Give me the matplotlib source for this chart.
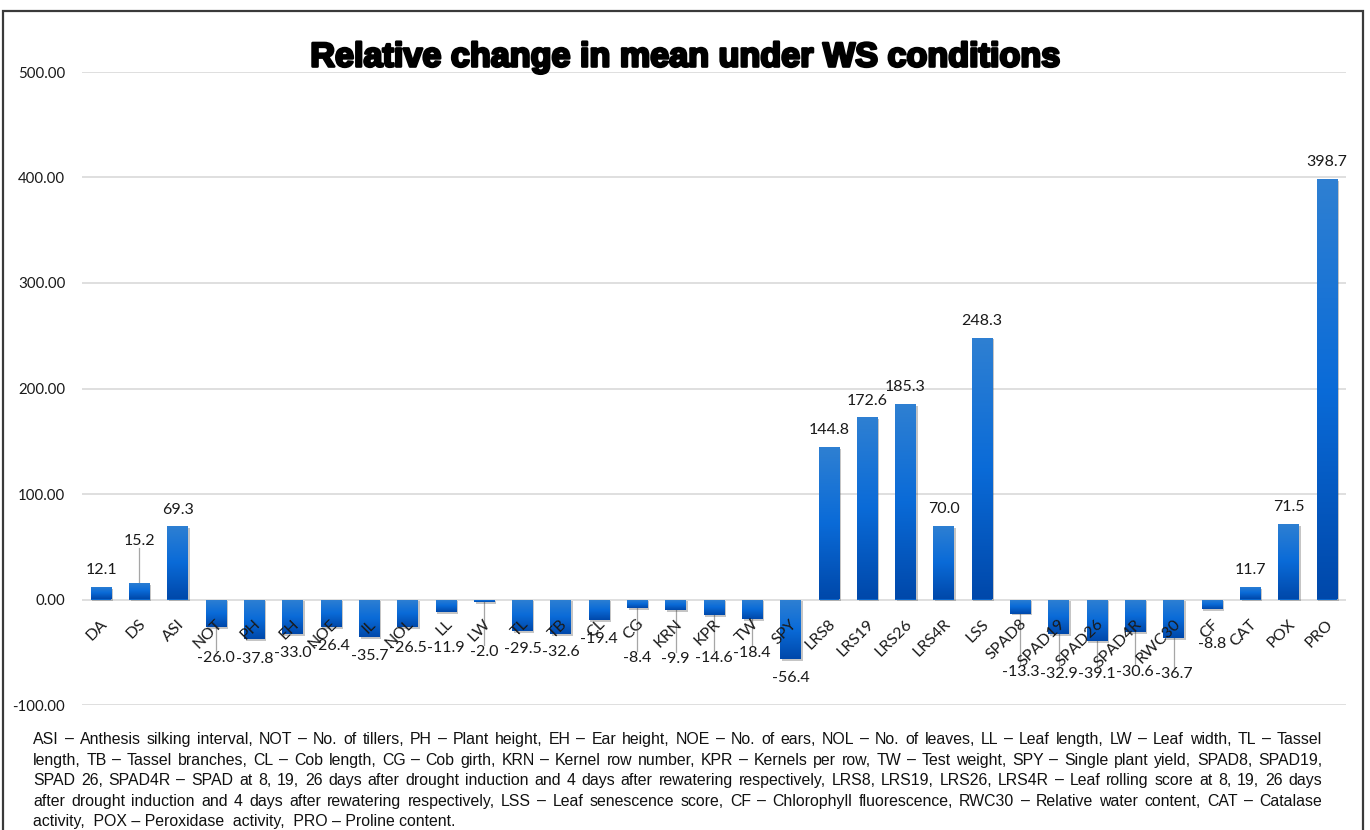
import matplotlib
matplotlib.use("Agg")
import matplotlib.pyplot as plt
import matplotlib.patheffects as pe
from matplotlib.colors import LinearSegmentedColormap
from matplotlib.patches import Rectangle
import numpy as np

traits = ["DA", "DS", "ASI", "NOT", "PH", "EH", "NOE", "IL", "NOL", "LL", "LW",
          "TL", "TB", "CL", "CG", "KRN", "KPR", "TW", "SPY", "LRS8", "LRS19",
          "LRS26", "LRS4R", "LSS", "SPAD8", "SPAD19", "SPAD26", "SPAD4R",
          "RWC30", "CF", "CAT", "POX", "PRO"]
change = [12.1, 15.2, 69.3, -26.0, -37.8, -33.0, -26.4, -35.7, -26.5, -11.9,
          -2.0, -29.5, -32.6, -19.4, -8.4, -9.9, -14.6, -18.4, -56.4, 144.8,
          172.6, 185.3, 70.0, 248.3, -13.3, -32.9, -39.1, -30.6, -36.7, -8.8,
          11.7, 71.5, 398.7]
yticks = [-100, 0, 100, 200, 300, 400, 500]

# where the value labels sit (centre, in data units) for the negative bars
neg_label_y = {"NOT": -55, "PH": -56, "EH": -51, "NOE": -44.5, "IL": -54,
               "NOL": -45.5, "LL": -45.5, "LW": -50, "TL": -46.5, "TB": -50,
               "CL": -37, "CG": -55, "KRN": -56, "KPR": -55, "TW": -51,
               "SPY": -74, "SPAD8": -69, "SPAD19": -71, "SPAD26": -71,
               "SPAD4R": -69, "RWC30": -71, "CF": -42}
pos_label_lift = {"DS": 24}
with_leader = {"DS", "NOT", "LW", "CG", "KRN", "KPR", "TW", "SPAD8", "SPAD19",
               "SPAD26", "SPAD4R", "RWC30"}

title = "Relative change in mean under WS conditions"
notes = [
    "ASI \u2013 Anthesis silking interval, NOT \u2013 No. of tillers, PH \u2013 Plant height, EH \u2013 Ear height, NOE \u2013 No. of ears, NOL \u2013 No. of leaves, LL \u2013 Leaf length, LW \u2013 Leaf width, TL \u2013 Tassel",
    "length, TB \u2013 Tassel branches, CL \u2013 Cob length, CG \u2013 Cob girth, KRN \u2013 Kernel row number, KPR \u2013 Kernels per row, TW \u2013 Test weight, SPY \u2013 Single plant yield, SPAD8, SPAD19,",
    "SPAD 26, SPAD4R \u2013 SPAD at  8, 19, 26 days after drought induction and 4 days after rewatering respectively, LRS8, LRS19, LRS26, LRS4R \u2013 Leaf rolling score at 8, 19, 26 days",
    "after drought induction and 4 days after rewatering respectively, LSS \u2013 Leaf senescence score, CF \u2013 Chlorophyll fluorescence, RWC30 \u2013 Relative water content, CAT \u2013 Catalase",
    "activity,  POX \u2013 Peroxidase  activity,  PRO \u2013 Proline content.",
]

W, H = 1370, 830
lab_font = "Lato"
fig = plt.figure(figsize=(W / 100, H / 100), dpi=100)
ax = fig.add_axes([82 / W, 1 - 705 / H, (1346 - 82) / W, (705 - 72) / H])

x = np.arange(len(traits))
shadow = [pe.SimplePatchShadow(offset=(1.2, -1.4), shadow_rgbFace="#404040", alpha=0.3),
          pe.Normal()]
bars = ax.bar(x, change, width=0.54, color="#0a66cc", zorder=3, path_effects=shadow)

# vertical blue gradient on each bar
cmap = LinearSegmentedColormap.from_list("blu", ["#2f80d2", "#0a6bd8", "#0048aa"])
grad = np.linspace(0, 1, 256).reshape(-1, 1)
for b in bars:
    x0 = b.get_x()
    y0, y1 = b.get_y(), b.get_y() + b.get_height()
    lo, hi = min(y0, y1), max(y0, y1)
    im = ax.imshow(grad, cmap=cmap, extent=(x0, x0 + b.get_width(), lo, hi),
                   origin="upper", aspect="auto", zorder=4)
    im.set_clip_path(b)

# value labels
for i, (name, v) in enumerate(zip(traits, change)):
    if v >= 0:
        ly = v + 16 + pos_label_lift.get(name, 0)
        edge = ly - 6.5
    else:
        ly = neg_label_y[name]
        edge = ly + 6.5
    ax.text(i, ly, f"{v:.1f}", ha="center", va="center", fontsize=11.5,
            family=lab_font, color="#1a1a1a", zorder=6)
    if name in with_leader:
        ax.plot([i, i], [v, edge], color="#a6a6a6", lw=0.9, zorder=2)

# category names sit on the zero line, tilted
for i, name in enumerate(traits):
    ax.annotate(name, xy=(i, 0), xytext=(3, -16), textcoords="offset points",
                rotation=45, ha="right", va="center", rotation_mode="anchor",
                fontsize=11.5, family=lab_font, color="#1a1a1a", zorder=7)

ax.set_xlim(-0.5, len(traits) - 0.5)
ax.set_ylim(-100, 500)
ax.set_xticks([])
ax.set_yticks(yticks)
ax.set_yticklabels([f"{t:.2f}" for t in yticks], family=lab_font, fontsize=10.8,
                   color="#1a1a1a")
ax.tick_params(axis="y", length=0, pad=12)
ax.yaxis.grid(True, color="#d9d9d9", lw=1.2)
ax.set_axisbelow(True)
for s in ax.spines.values():
    s.set_visible(False)

fig.text(0.5, 1 - 58 / H, title, ha="center", va="center", fontsize=24.6,
         fontweight="bold", family="Liberation Sans",
         path_effects=[pe.withStroke(linewidth=1.9, foreground="black")])

fig.add_artist(Rectangle((3 / W, -0.05), (1363 - 3) / W, 1.05 - 11 / H,
                         transform=fig.transFigure, fill=False,
                         ec="#3a3a3a", lw=1.6))

# footnote, justified between the two margins
renderer = fig.canvas.get_renderer()
x_left, x_right = 33, 1322
for k, line in enumerate(notes):
    y = 1 - (744 + k * 20.5) / H
    kw = dict(fontsize=11.4, family="Liberation Sans", color="#111111", va="baseline")
    if k == len(notes) - 1:
        fig.text(x_left / W, y, line, ha="left", **kw)
        continue
    words = [w for w in line.split(" ") if w]
    texts = [fig.text(0, y, w, ha="left", **kw) for w in words]
    widths = [t.get_window_extent(renderer).width for t in texts]
    gap = (x_right - x_left - sum(widths)) / (len(words) - 1)
    pos = x_left
    for t, w in zip(texts, widths):
        t.set_x(pos / W)
        pos += w + gap

fig.savefig("out.png", dpi=100, facecolor="white")
